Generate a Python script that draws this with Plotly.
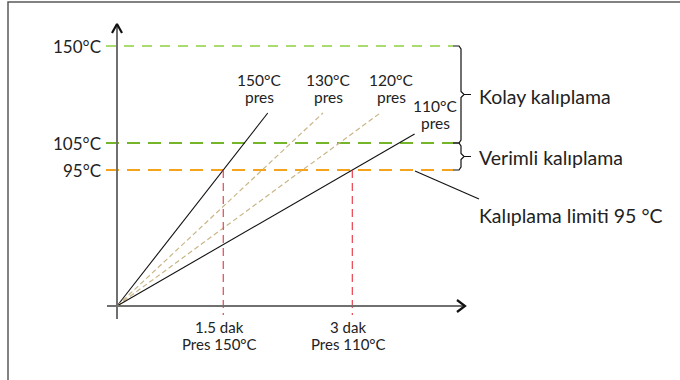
import plotly.graph_objects as go

# ---- schematic data (diagram units; origin = start of heating) ----
level_labels = ["150°C", "105°C", "95°C"]
level_heights = [260, 163, 136]
level_colors = ["#8dcf3f", "#74b52a", "#f5a21c"]
level_widths = [1.4, 2.2, 2.2]
level_dash = ["10px,8px", "13px,8px", "13px,8px"]

press_labels = ["150°C", "130°C", "120°C", "110°C"]
press_slopes = [1.28, 0.937, 0.733, 0.578]
press_end_heights = [193, 193, 193, 172]
press_solid = [True, False, False, True]
press_label_x = [142, 211, 274, 318]
press_label_y = [226, 226, 226, 200]

time_labels = ["1.5 dak", "3 dak"]
time_press = ["Pres 150°C", "Pres 110°C"]
time_from_line = [0, 3]   # index of press line crossing the 95°C limit

zone_labels = ["Kolay kalıplama", "Verimli kalıplama"]
limit_label = "Kalıplama limiti 95 °C"

FONT = "Lato"
fig = go.Figure()

def line(xs, ys, color, width, dash="solid"):
    fig.add_trace(go.Scatter(x=xs, y=ys, mode="lines", hoverinfo="skip",
                             line=dict(color=color, width=width, dash=dash),
                             showlegend=False))

# frame
line([-109, -109, 570], [-90, 304, 304], "#5a5a5a", 1.5)

# level dashed lines
x_line_start, x_line_end = -11, 336
for h, c, w, d in zip(level_heights, level_colors, level_widths, level_dash):
    line([x_line_start, x_line_end], [h, h], c, w, d)

# heating lines
for s, he, solid in zip(press_slopes, press_end_heights, press_solid):
    if solid:
        line([0, he / s], [0, he], "#111111", 1.1)
    else:
        line([0, he / s], [0, he], "#c9b688", 1.2, "5px,3px")

# red time markers
limit_h = level_heights[2]
for i, idx in enumerate(time_from_line):
    xt = limit_h / press_slopes[idx]
    line([xt, xt], [limit_h, -9], "#e5333f", 1.1, "8px,5px")
    fig.add_annotation(x=xt - 4, y=-21, text=time_labels[i], showarrow=False,
                       font=dict(family=FONT, size=15, color="#222"), xanchor="center", yanchor="middle")
    fig.add_annotation(x=xt - 4, y=-38, text=time_press[i], showarrow=False,
                       font=dict(family=FONT, size=15, color="#222"), xanchor="center", yanchor="middle")

# axes
line([0, 0], [-13, 281], "#707070", 2)
line([-10, 346], [0, 0], "#707070", 2)
line([-5, 0, 5], [273, 282, 273], "#111111", 2.2)
line([340, 348, 340], [6, 0, -6], "#111111", 2.2)

# braces
def brace(top, bottom, xb=344, x0=336):
    mid = (top + bottom) / 2
    xs = [x0, xb - 2, xb, xb, xb + 3, xb + 10, xb + 3, xb, xb, xb - 2, x0]
    ys = [top, top, top - 3, mid + 3, mid, mid, mid, mid - 3, bottom + 3, bottom, bottom]
    line(xs, ys, "#111111", 1.2)
    return mid

m1 = brace(level_heights[0], level_heights[1])
m2 = brace(level_heights[1], level_heights[2])

# leader to limit label
line([298, 362], [135, 107], "#111111", 1.1)

# level labels
for lab, h in zip(level_labels, level_heights):
    fig.add_annotation(x=-14, y=h, text=lab, showarrow=False, xanchor="right", yanchor="middle",
                       font=dict(family=FONT, size=17, color="#222"))

# press labels
for lab, x, y in zip(press_labels, press_label_x, press_label_y):
    fig.add_annotation(x=x, y=y, text=lab, showarrow=False, xanchor="center", yanchor="middle",
                       font=dict(family=FONT, size=15.5, color="#222"))
    fig.add_annotation(x=x, y=y - 17, text="pres", showarrow=False, xanchor="center", yanchor="middle",
                       font=dict(family=FONT, size=15.5, color="#222"))

# zone labels
for lab, y in zip(zone_labels, [m1 - 2, m2 - 1]):
    fig.add_annotation(x=360, y=y, text=lab, showarrow=False, xanchor="left", yanchor="middle",
                       font=dict(family=FONT, size=19.5, color="#222"))
fig.add_annotation(x=360, y=91, text=limit_label, showarrow=False, xanchor="left", yanchor="middle",
                   font=dict(family=FONT, size=19.5, color="#222"))

fig.update_layout(width=680, height=380, margin=dict(l=0, r=0, t=0, b=0),
                  paper_bgcolor="white", plot_bgcolor="white",
                  xaxis=dict(range=[-117, 563], visible=False, fixedrange=True),
                  yaxis=dict(range=[-74, 306], visible=False, fixedrange=True))
fig.write_html("out.html", config={"displayModeBar": False},
               post_script="document.body.style.margin='0px';document.body.style.overflow='hidden';")
